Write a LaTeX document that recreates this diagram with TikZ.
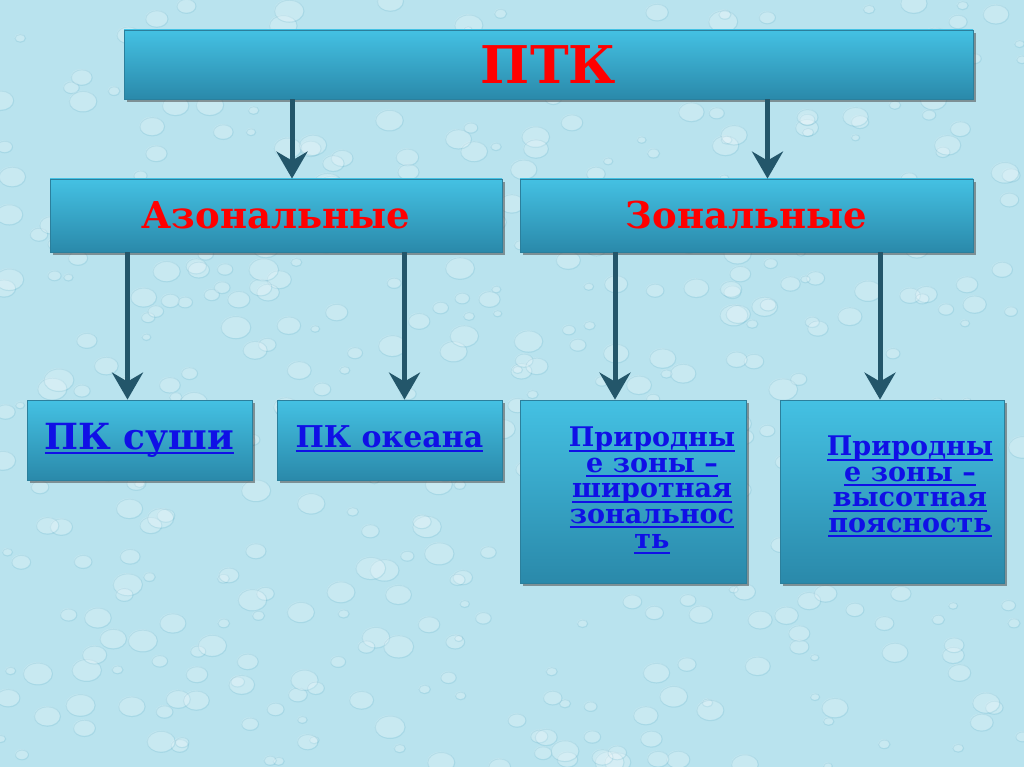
\documentclass[tikz,border=0pt]{standalone}
\usepackage{fontspec}
\setmainfont{DejaVu Serif}
\usetikzlibrary{calc,positioning}
\usetikzlibrary{arrows.meta}
\usetikzlibrary{shadows}
\definecolor{bgdrop}{HTML}{B9E3EE}
\definecolor{boxtop}{HTML}{44C1E3}
\definecolor{boxbot}{HTML}{2A89AA}
\definecolor{boxline}{HTML}{2B7F9C}
\definecolor{arrcol}{HTML}{23566A}
\definecolor{linkblue}{HTML}{1010E6}
\newcommand\ulin[1]{\setbox0\hbox{#1}\rlap{\rule[-5pt]{\wd0}{2.2pt}}\box0}
\tikzset{
  box/.style={draw=boxline,line width=0.8pt,top color=boxtop,bottom color=boxbot,
    drop shadow={shadow xshift=3pt,shadow yshift=-3pt,fill=black!70,opacity=.55},
    inner sep=0pt},
  arr/.style={arrcol,line width=5pt,
    -{Stealth[length=27pt,width=31pt,inset=9pt,fill=arrcol]}},
  head/.style={text=red,font=\bfseries\fontsize{37}{40}\selectfont},
  link/.style={text=linkblue,font=\bfseries\fontsize{27}{25.5}\selectfont,align=center}
}
\begin{document}
\begin{tikzpicture}[x=1pt,y=-1pt]
  \useasboundingbox (0,0) rectangle (1024,767);
  \fill[bgdrop] (0,0) rectangle (1024,767);
  % water drops
  \pgfmathsetseed{7}
  \foreach \i in {1,...,520}{
    \pgfmathsetmacro{\dx}{rnd*1024}
    \pgfmathsetmacro{\dy}{rnd*767}
    \pgfmathsetmacro{\dr}{4+rnd*11}
    \fill[white,opacity=.22] (\dx,\dy) ellipse [x radius=\dr, y radius=0.75*\dr];
    \draw[boxbot,opacity=.12,line width=1pt] (\dx+0.6,\dy+0.8) ellipse [x radius=\dr, y radius=0.75*\dr];
  }
  % top level
  \node[box,minimum width=849pt,minimum height=69pt] (ptk) at (548.5,64.5) {};
  \node[text=red,font=\bfseries\fontsize{52}{54}\selectfont] (ptktxt) at (ptk.center) {ПТК};
  % second level
  \node[box,minimum width=452pt,minimum height=73pt] (azon) at (276,215.5) {};
  \node[head] (azontxt) at (azon.center) {Азональные};
  \node[box,minimum width=453pt,minimum height=73pt] (zon) at (746.5,215.5) {};
  \node[head] (zontxt) at (zon.center) {Зональные};
  % third level
  \node[box,minimum width=225pt,minimum height=80pt] (sushi) at (139.5,440) {};
  \node[link,font=\bfseries\fontsize{36}{38}\selectfont] (sushitxt) at (sushi.center) {\ulin{ПК суши}};
  \node[box,minimum width=225pt,minimum height=80pt] (okean) at (389.5,440) {};
  \node[link,font=\bfseries\fontsize{30}{32}\selectfont] (okeantxt) at ([yshift=1pt]okean.center) {\ulin{ПК океана}};
  \node[box,minimum width=226pt,minimum height=183pt] (shir) at (633,491.5) {};
  \node[link,anchor=north] (shirtxt) at ([xshift=19pt,yshift=-24pt]shir.north)
    {\ulin{Природны}\\ \ulin{е зоны –}\\ \ulin{широтная}\\ \ulin{зональнос}\\ \ulin{ть}};
  \node[box,minimum width=224pt,minimum height=183pt] (vys) at (892,491.5) {};
  \node[link,anchor=north] (vystxt) at ([xshift=18pt,yshift=-33pt]vys.north)
    {\ulin{Природны}\\ \ulin{е зоны –}\\ \ulin{высотная}\\ \ulin{поясность}};
  % arrows
  \draw[arr] ([xshift=16pt]azon.north |- ptk.south) -- ([xshift=16pt]azon.north);
  \draw[arr] ([xshift=21pt]zon.north |- ptk.south) -- ([xshift=21pt]zon.north);
  \draw[arr] ([xshift=-12pt]sushi.north |- azon.south) -- ([xshift=-12pt]sushi.north);
  \draw[arr] ([xshift=15pt]okean.north |- azon.south) -- ([xshift=15pt]okean.north);
  \draw[arr] ([xshift=-18pt]shir.north |- zon.south) -- ([xshift=-18pt]shir.north);
  \draw[arr] ([xshift=-12pt]vys.north |- zon.south) -- ([xshift=-12pt]vys.north);
\end{tikzpicture}
\end{document}
